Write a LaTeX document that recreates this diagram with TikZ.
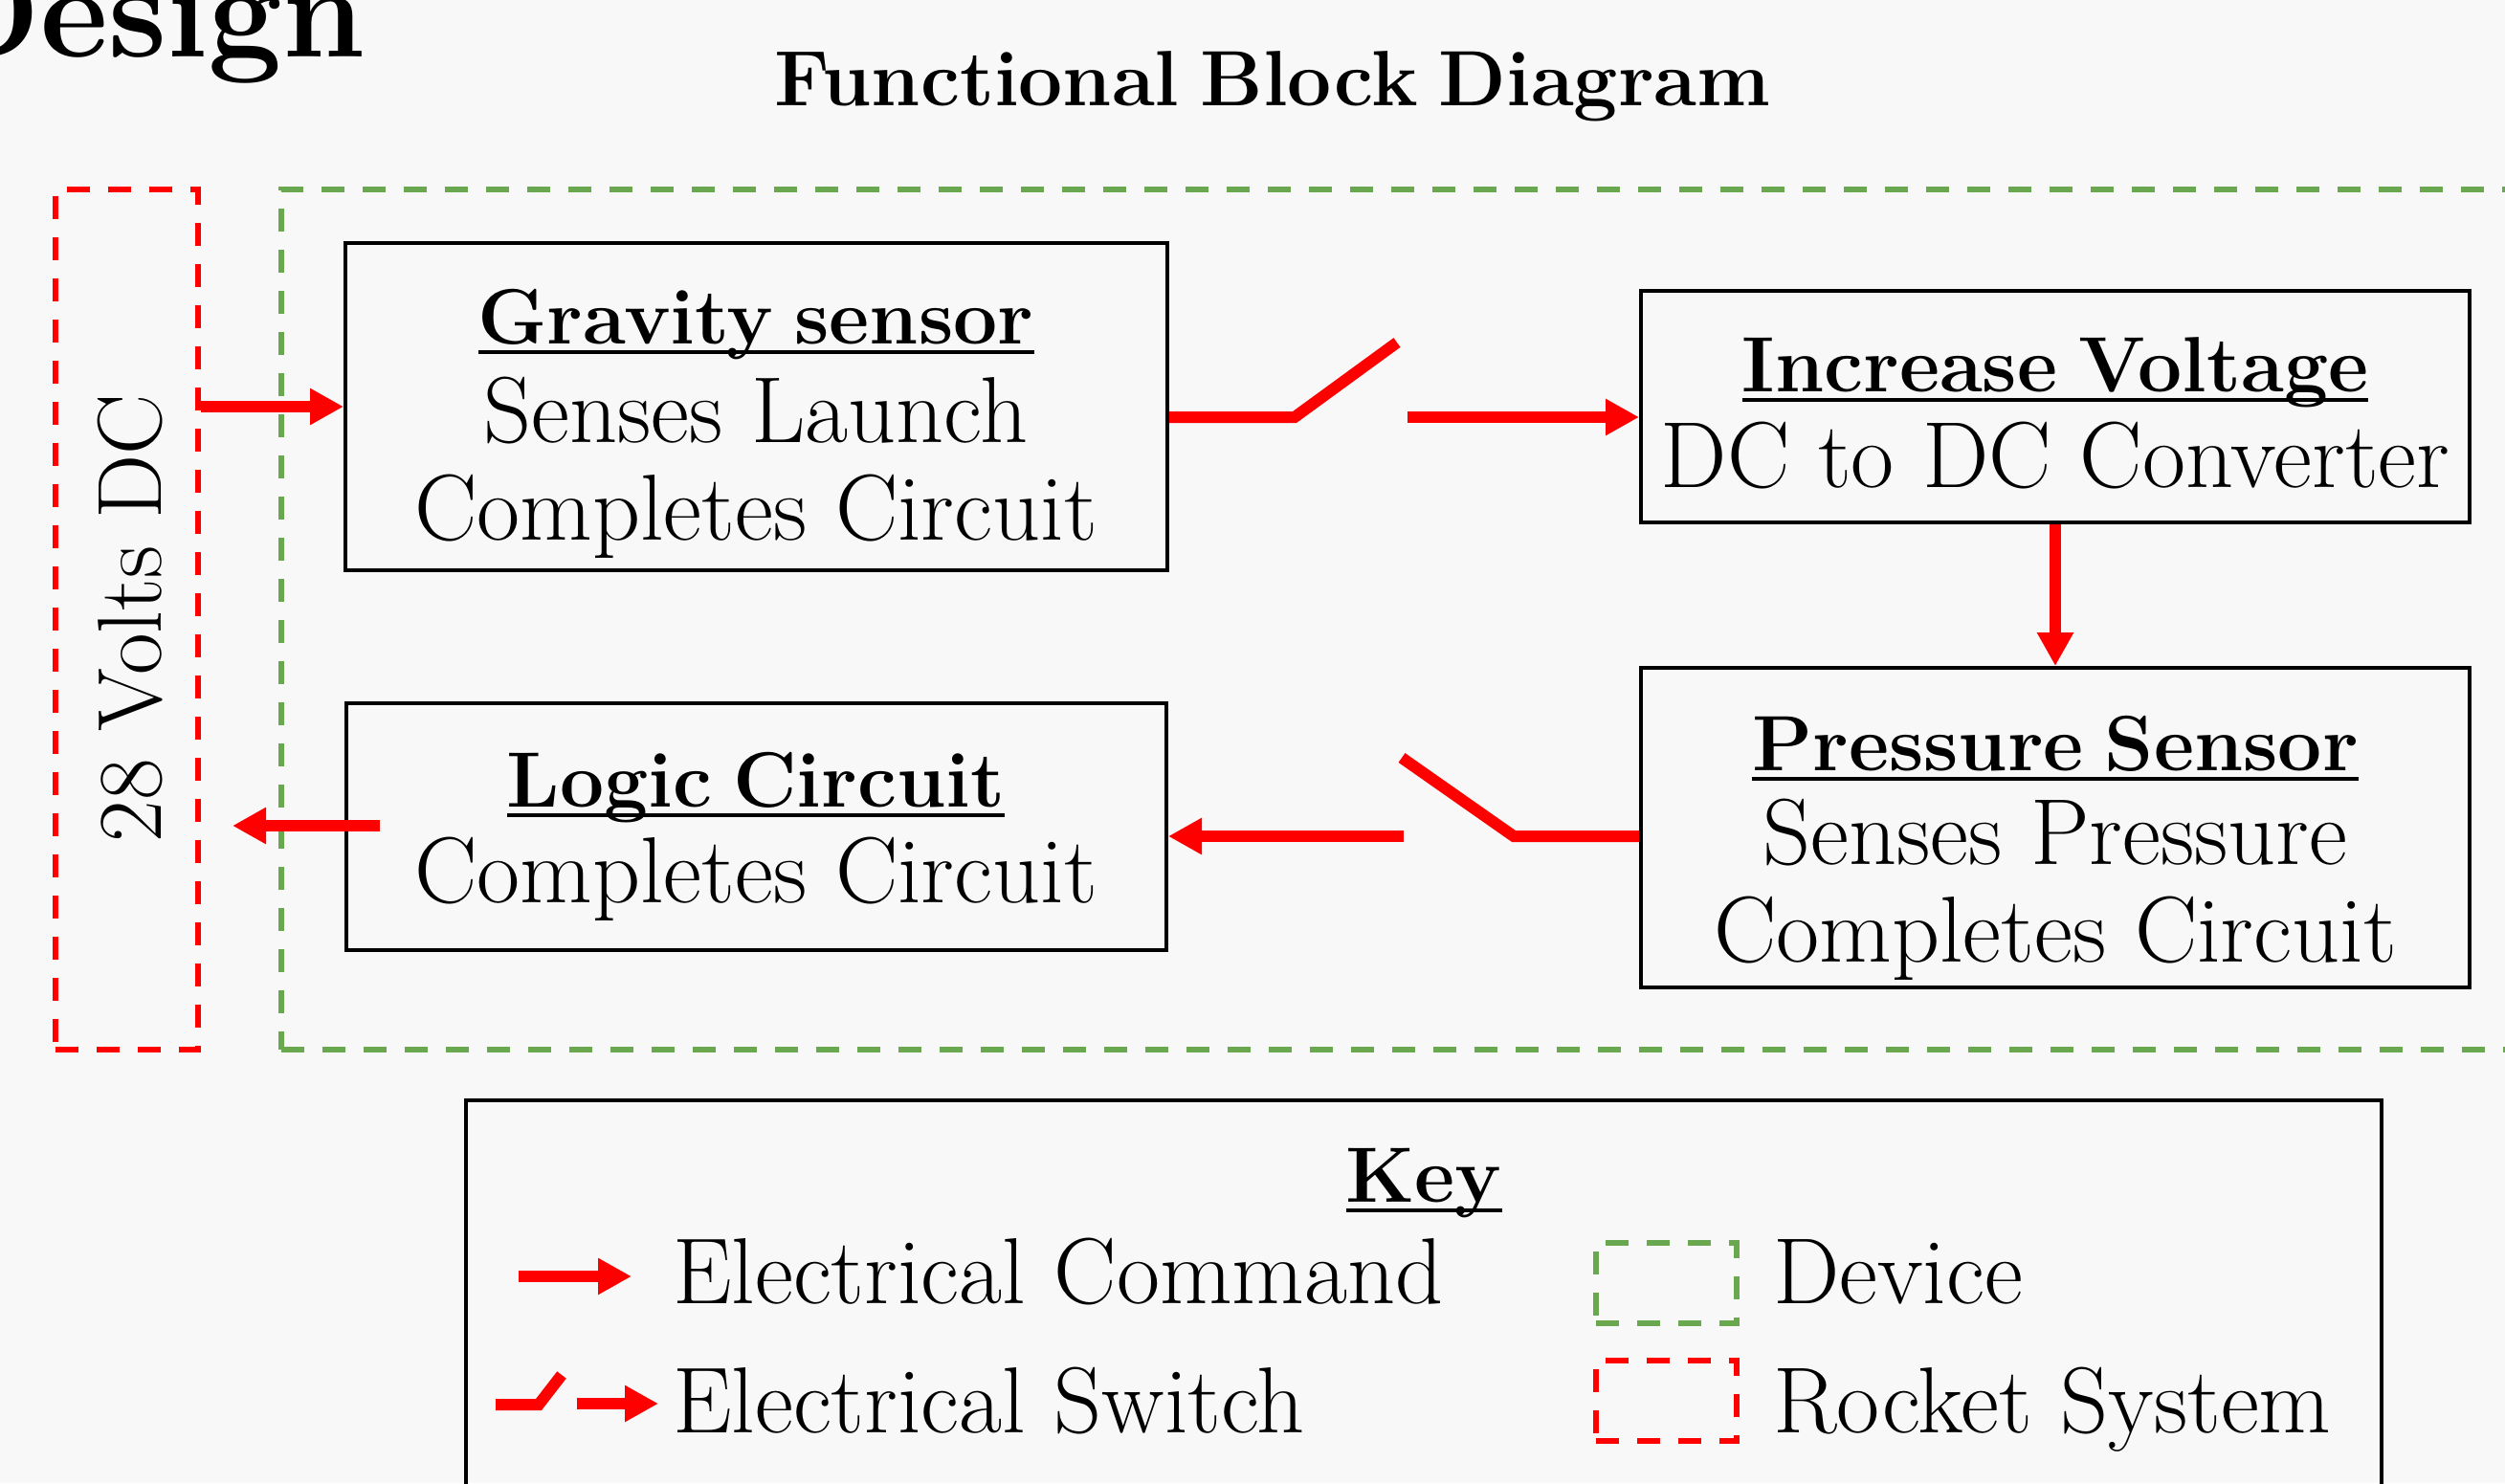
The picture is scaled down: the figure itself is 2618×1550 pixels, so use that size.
\documentclass[tikz,border=0pt]{standalone}
\usetikzlibrary{arrows.meta}
\definecolor{bgc}{RGB}{248,248,248}
\definecolor{devgreen}{RGB}{106,168,79}
\definecolor{sysred}{RGB}{255,0,0}
\newcommand\thickul[1]{\setbox0\hbox{#1}\rlap{\rule[-11pt]{\wd0}{4pt}}\box0}
\newcommand\hdfont{\fontsize{82}{98}\selectfont\bfseries\spaceskip=22pt plus 8pt minus 8pt\relax}
\begin{document}
\begin{tikzpicture}[x=1pt,y=-1pt,
  box/.style={draw=black,line width=4pt,inner sep=0pt},
  txt/.style={anchor=base,inner sep=0pt,font=\fontsize{98}{118}\selectfont},
  hd/.style={anchor=base,inner sep=0pt,font=\hdfont},
  wire/.style={draw=sysred,line width=12pt},
  arr/.style={wire,-{Triangle[length=35pt,width=36pt]}},
  dashbox/.style={line width=6pt,dash pattern=on 24pt off 19pt,inner sep=0pt},
  devbox/.style={dashbox,draw=devgreen},
  sysbox/.style={dashbox,draw=sysred}]
\useasboundingbox (0,0) rectangle (2618,1550);
\clip (0,0) rectangle (2618,1550);
\fill[bgc] (0,0) rectangle (2618,1550);

% titles
\node[anchor=base east,inner sep=0pt,font=\fontsize{138}{160}\selectfont\bfseries] (design) at (382,59) {Design};
\node[hd] (title) at (1330,110) {Functional Block Diagram};

% dashed system / device boxes
\node[sysbox,minimum width=149pt,minimum height=899pt] (sys) at (132.5,647) {};
\node[devbox,minimum width=2400pt,minimum height=899pt] (dev) at (1494,647) {};
\node[anchor=base,rotate=90,inner sep=0pt,font=\fontsize{95}{110}\selectfont] (volts) at (168,646) {28 Volts DC};

% functional boxes
\node[box,minimum width=859pt,minimum height=342pt] (gs) at (790.5,425) {};
\node[hd] (gs1) at (790,359) {\thickul{Gravity sensor}};
\node[txt] (gs2) at (790,462) {Senses Launch};
\node[txt] (gs3) at (790,564) {Completes Circuit};

\node[box,minimum width=866pt,minimum height=242pt] (iv) at (2148,425) {};
\node[hd] (iv1) at (2148,409) {\thickul{Increase Voltage}};
\node[txt] (iv2) at (2148,509) {DC to DC Converter};

\node[box,minimum width=866pt,minimum height=334pt] (ps) at (2148,865) {};
\node[hd] (ps1) at (2148,805) {\thickul{Pressure Sensor}};
\node[txt] (ps2) at (2148,903) {Senses Pressure};
\node[txt] (ps3) at (2148,1005) {Completes Circuit};

\node[box,minimum width=857pt,minimum height=258pt] (lc) at (790.5,864) {};
\node[hd] (lc1) at (790,843) {\thickul{Logic Circuit}};
\node[txt] (lc2) at (790,943) {Completes Circuit};

% connectors
\draw[arr] (sys.east |- gs.west) -- (gs.west);

\coordinate (s1b) at (1353,436);
\coordinate (s1c) at (1460,358);
\coordinate (s1d) at (1471,436);
\draw[wire] (gs.east |- s1b) -- (s1b) -- (s1c);
\draw[arr] (s1d) -- (iv.west |- s1d);

\draw[arr] (iv.south) -- (ps.north);

\coordinate (s2b) at (1582,874);
\coordinate (s2c) at (1465,792);
\coordinate (s2d) at (1467,874);
\draw[wire] (ps.west |- s2b) -- (s2b) -- (s2c);
\draw[arr] (s2d) -- (lc.east |- s2d);

\coordinate (la) at (397,863);
\coordinate (lb) at (243,863);
\draw[arr] (la) -- (lb);

% key
\node[box,minimum width=2002pt,minimum height=600pt] (key) at (1488,1450) {};
\node[hd] (keyt) at (1488,1256) {\thickul{Key}};

\coordinate (k1a) at (542,1334);
\coordinate (k1b) at (660,1334);
\draw[arr] (k1a) -- (k1b);
\node[txt,anchor=base west] (k1t) at (703,1362) {Electrical Command};

\coordinate (k2a) at (518,1468);
\coordinate (k2b) at (563,1468);
\coordinate (k2c) at (587,1437);
\coordinate (k2d) at (603,1467);
\coordinate (k2e) at (688,1467);
\draw[wire] (k2a) -- (k2b) -- (k2c);
\draw[arr] (k2d) -- (k2e);
\node[txt,anchor=base west] (k2t) at (703,1497) {Electrical Switch};

\node[devbox,minimum width=147pt,minimum height=84pt] (kdev) at (1741.5,1341) {};
\node[txt,anchor=base west] (kdevt) at (1853,1362) {Device};
\node[sysbox,minimum width=147pt,minimum height=84pt] (ksys) at (1741.5,1464) {};
\node[txt,anchor=base west] (ksyst) at (1853,1497) {Rocket System};
\end{tikzpicture}
\end{document}
